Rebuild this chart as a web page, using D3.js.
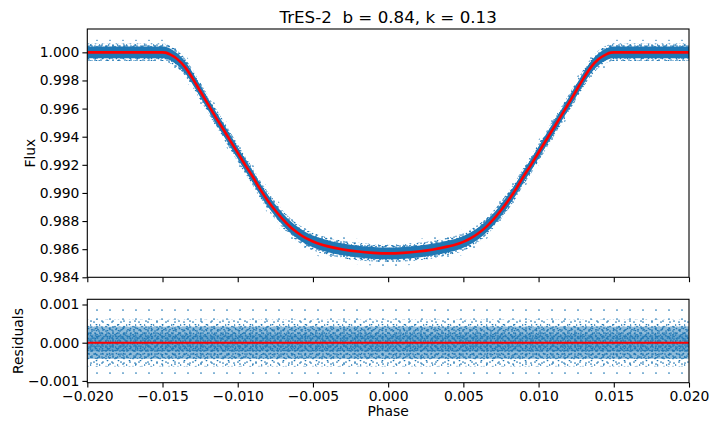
<!DOCTYPE html>
<html><head><meta charset="utf-8">
<script src="https://cdn.jsdelivr.net/npm/d3@7"></script>
<style>
body{margin:0;background:#fff}
svg{display:block}
text{font-family:"DejaVu Sans",sans-serif;fill:#000}
</style>
</head><body>
<svg id="chart" width="720" height="432"></svg>
<script>
// ---------------- data ----------------
const chartTitle = "TrES-2  b = 0.84, k = 0.13";
const modelPhase = [-0.0200,-0.0180,-0.0160,-0.0150,-0.0148,-0.0145,-0.0140,-0.0135,-0.0130,-0.0125,-0.0120,-0.0115,-0.0110,-0.0105,-0.0100,-0.0095,-0.0090,-0.0085,-0.0080,-0.0075,-0.0070,-0.0065,-0.0060,-0.0055,-0.0050,-0.0045,-0.0040,-0.0030,-0.0020,-0.0010,0.0000,
                     0.0010,0.0020,0.0030,0.0040,0.0045,0.0050,0.0055,0.0060,0.0065,0.0070,0.0075,0.0080,0.0085,0.0090,0.0095,0.0100,0.0105,0.0110,0.0115,0.0120,0.0125,0.0130,0.0135,0.0140,0.0145,0.0148,0.0150,0.0160,0.0180,0.0200];
const modelFlux  = [1.00000,1.00000,1.00000,1.00000,0.99998,0.99985,0.99950,0.99895,0.99815,0.99725,0.99635,0.99545,0.99460,0.99372,0.99285,0.99198,0.99115,0.99025,0.98945,0.98875,0.98812,0.98758,0.98715,0.98680,0.98655,0.98635,0.98620,0.98598,0.98583,0.98574,0.98570,
                    0.98574,0.98583,0.98598,0.98620,0.98633,0.98652,0.98678,0.98713,0.98757,0.98812,0.98877,0.98948,0.99028,0.99118,0.99200,0.99288,0.99375,0.99462,0.99548,0.99637,0.99727,0.99817,0.99897,0.99952,0.99986,0.99998,1.00000,1.00000,1.00000,1.00000];
// half-widths of the scatter cloud around the model (in flux / residual units)
const fluxScatterHalf     = [0.00090, 0.00062, 0.00042];
const residualScatterHalf = [0.00090, 0.00062, 0.00042, 0.00022];
const phaseTicks    = [-0.020,-0.015,-0.010,-0.005,0.000,0.005,0.010,0.015,0.020];
const fluxTicks     = [0.984,0.986,0.988,0.990,0.992,0.994,0.996,0.998,1.000];
const residualTicks = [-0.001,0.000,0.001];
const phaseDomain    = [-0.020, 0.020];
const fluxDomain     = [0.984, 1.00166];
const residualDomain = [-0.001047, 0.001136];

// ---------------- layout ----------------
const L = 87.3, R = 689;
const topY = [29, 277.3], resY = [299.3, 382.7];
const blue = "#1f77b4";
const svg = d3.select("#chart");

const x  = d3.scaleLinear().domain(phaseDomain).range([L, R]);
const yF = d3.scaleLinear().domain(fluxDomain).range([topY[1], topY[0]]);
const yR = d3.scaleLinear().domain(residualDomain).range([resY[1], resY[0]]);

const fmt = d3.format(".3f");
const tickFmt = v => fmt(v).replace("-", "\u2212");

// dot texture patterns (styling only)
const defs = svg.append("defs");
const patterns = {
  pA: {w:7,  h:5, dots:[[1,1],[4.5,3.5]]},
  pB: {w:6,  h:7, dots:[[2,0.5],[5,4]]},
  pC: {w:9,  h:8, dots:[[0.5,5],[4,2],[7,6.5]]},
  pD: {w:11, h:6, dots:[[3,3],[8.5,0.5]]},
  pE: {w:13, h:9, dots:[[6,4]]},
  pF: {w:5,  h:6, dots:[[2.5,2],[0.5,5]]}
};
Object.entries(patterns).forEach(([id,p]) => {
  const pat = defs.append("pattern").attr("id", id).attr("patternUnits","userSpaceOnUse")
    .attr("width", p.w).attr("height", p.h);
  p.dots.forEach(d => pat.append("circle").attr("cx", d[0]).attr("cy", d[1]).attr("r", 0.85).attr("fill", blue));
});
defs.append("clipPath").attr("id","clipTop").append("rect")
  .attr("x", L).attr("y", topY[0]).attr("width", R-L).attr("height", topY[1]-topY[0]);
defs.append("clipPath").attr("id","clipRes").append("rect")
  .attr("x", L).attr("y", resY[0]).attr("width", R-L).attr("height", resY[1]-resY[0]);

const model = modelPhase.map((p,i) => ({p, f: modelFlux[i]}));

// ---------------- top panel ----------------
const gTop = svg.append("g").attr("clip-path","url(#clipTop)");
const topFills = [["pE"], ["pC","pD","pA","pB"], ["solid"]];
fluxScatterHalf.forEach((h, li) => {
  const area = d3.area().curve(d3.curveMonotoneX)
    .x(d => x(d.p)).y0(d => yF(d.f - h)).y1(d => yF(d.f + h));
  topFills[li].forEach(fl => {
    gTop.append("path").datum(model).attr("d", area)
      .attr("fill", fl === "solid" ? blue : `url(#${fl})`);
  });
});
gTop.append("path").datum(model)
  .attr("d", d3.line().curve(d3.curveMonotoneX).x(d => x(d.p)).y(d => yF(d.f)))
  .attr("fill","none").attr("stroke","#ff0000").attr("stroke-width",2.6);

// ---------------- residual panel ----------------
const gRes = svg.append("g").attr("clip-path","url(#clipRes)");
const resFills = [["pE"], ["pD","pC"], ["solid","pA","pB"], ["solid","pF"]];
const resSolidOpacity = [0, 0, 0.5, 0.35];
residualScatterHalf.forEach((h, li) => {
  resFills[li].forEach(fl => {
    gRes.append("rect").attr("x", x(phaseDomain[0])).attr("width", x(phaseDomain[1]) - x(phaseDomain[0]))
      .attr("y", yR(h)).attr("height", yR(-h) - yR(h))
      .attr("fill", fl === "solid" ? blue : `url(#${fl})`)
      .attr("fill-opacity", fl === "solid" ? resSolidOpacity[li] : 1);
  });
});
gRes.append("line").attr("x1", x(phaseDomain[0])).attr("x2", x(phaseDomain[1]))
  .attr("y1", yR(0)).attr("y2", yR(0)).attr("stroke","#ff0000").attr("stroke-width",2);

// ---------------- axes ----------------
function styleAxis(g, noLabels) {
  g.select(".domain").remove();
  g.selectAll(".tick line").attr("stroke","#000").attr("stroke-width",1.1);
  g.selectAll(".tick text").style("font-size","13.9px").style("font-family","DejaVu Sans");
  if (noLabels) g.selectAll(".tick text").remove();
}
const frame = (y0, y1) => svg.append("rect").attr("x", L).attr("y", y0).attr("width", R-L).attr("height", y1-y0)
  .attr("fill","none").attr("stroke","#000").attr("stroke-width",1.1);

svg.append("g").attr("transform",`translate(${L},0)`)
  .call(d3.axisLeft(yF).tickValues(fluxTicks).tickFormat(tickFmt).tickSize(4.9).tickPadding(3))
  .call(g => styleAxis(g));
svg.append("g").attr("transform",`translate(0,${topY[1]})`)
  .call(d3.axisBottom(x).tickValues(phaseTicks).tickSize(4.9))
  .call(g => styleAxis(g, true));
svg.append("g").attr("transform",`translate(${L},0)`)
  .call(d3.axisLeft(yR).tickValues(residualTicks).tickFormat(tickFmt).tickSize(4.9).tickPadding(3))
  .call(g => styleAxis(g));
svg.append("g").attr("transform",`translate(0,${resY[1]})`)
  .call(d3.axisBottom(x).tickValues(phaseTicks).tickFormat(tickFmt).tickSize(4.9).tickPadding(4))
  .call(g => styleAxis(g));
frame(topY[0], topY[1]);
frame(resY[0], resY[1]);

// ---------------- labels ----------------
svg.append("text").attr("x", (L+R)/2).attr("y", 23).attr("text-anchor","middle")
  .attr("xml:space","preserve").style("white-space","pre")
  .style("font-size","16.7px").text(chartTitle);
svg.append("text").attr("transform",`translate(35,${(topY[0]+topY[1])/2}) rotate(-90)`)
  .attr("text-anchor","middle").style("font-size","13.9px").text("Flux");
svg.append("text").attr("transform",`translate(22.5,${(resY[0]+resY[1])/2}) rotate(-90)`)
  .attr("text-anchor","middle").style("font-size","13.9px").text("Residuals");
svg.append("text").attr("x", (L+R)/2).attr("y", 416).attr("text-anchor","middle")
  .style("font-size","13.9px").text("Phase");
</script>
</body></html>
